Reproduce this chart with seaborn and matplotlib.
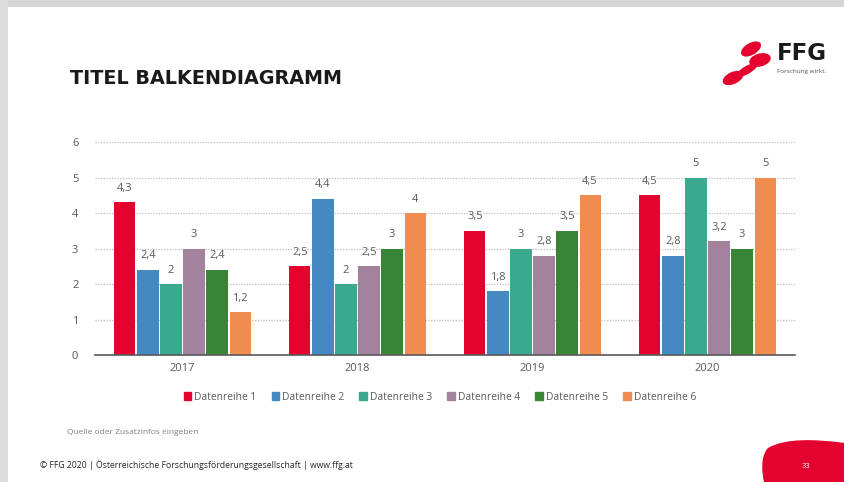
import matplotlib
matplotlib.use("Agg")
import matplotlib.pyplot as plt
import seaborn as sns
import pandas as pd
from matplotlib.patches import Rectangle, PathPatch, Ellipse
from matplotlib.path import Path

years = ["2017", "2018", "2019", "2020"]
series = ["Datenreihe 1", "Datenreihe 2", "Datenreihe 3",
          "Datenreihe 4", "Datenreihe 5", "Datenreihe 6"]
reihe1 = [4.3, 2.5, 3.5, 4.5]
reihe2 = [2.4, 4.4, 1.8, 2.8]
reihe3 = [2.0, 2.0, 3.0, 5.0]
reihe4 = [3.0, 2.5, 2.8, 3.2]
reihe5 = [2.4, 3.0, 3.5, 3.0]
reihe6 = [1.2, 4.0, 4.5, 5.0]
colors = ["#E4032E", "#4589C3", "#3BA98E", "#A2829C", "#3A8436", "#F08C4F"]

values = [reihe1, reihe2, reihe3, reihe4, reihe5, reihe6]
rows = []
for s, vals in zip(series, values):
    for y, v in zip(years, vals):
        rows.append({"Jahr": y, "Reihe": s, "Wert": v})
df = pd.DataFrame(rows)

sns.set_theme(style="white")
plt.rcParams["font.family"] = ["Open Sans", "DejaVu Sans"]

fig = plt.figure(figsize=(8.45, 4.82), dpi=100)
W, H = 845, 482

def fx(px):
    return px / W

def fy(py):
    return 1 - py / H

# Full-slide overlay in pixel units (y grows downwards) for decorations
deco = fig.add_axes([0, 0, 1, 1], zorder=-1)
deco.set_xlim(0, W)
deco.set_ylim(H, 0)
deco.axis("off")

ax = fig.add_axes([fx(95), fy(355), fx(795) - fx(95), fy(142) - fy(355)])

sns.barplot(data=df, x="Jahr", y="Wert", hue="Reihe", palette=colors,
            width=0.79, gap=0.08, ax=ax, legend=False, saturation=1,
            edgecolor="none")

ax.set_ylim(0, 6)
ax.set_xlim(-0.5, 3.5)
ax.set_yticks(range(7))
ax.set_yticklabels([str(i) for i in range(7)])
for yv in range(1, 7):
    ax.axhline(yv, color="#BFBFBF", lw=0.9, ls=(0, (1, 1.2)), zorder=0)
for sp in ["top", "right", "left"]:
    ax.spines[sp].set_visible(False)
ax.spines["bottom"].set_color("#595959")
ax.spines["bottom"].set_linewidth(1.2)
ax.tick_params(axis="y", length=0, pad=12, labelsize=8, labelcolor="#595959")
ax.tick_params(axis="x", length=0, pad=6, labelsize=8, labelcolor="#595959")
ax.set_xlabel("")
ax.set_ylabel("")

for cont in ax.containers:
    for bar in cont:
        h = bar.get_height()
        lbl = f"{h:g}".replace(".", ",")
        ax.annotate(lbl, (bar.get_x() + bar.get_width() / 2, h),
                    xytext=(0, 6), textcoords="offset points",
                    ha="center", va="bottom", fontsize=8, color="#595959")

# Legend
handles = [Rectangle((0, 0), 1, 1, color=c) for c in colors]
fig.legend(handles, series, loc="center", bbox_to_anchor=(fx(440), fy(397)),
           ncol=6, frameon=False, fontsize=7.4, handlelength=0.75,
           handleheight=0.75, handletextpad=0.3, columnspacing=1.45,
           labelcolor="#595959")

# Title
fig.text(fx(70), fy(78), "TITEL BALKENDIAGRAMM", fontsize=13.8,
         fontweight="bold", color="#1a1a1a", va="center", ha="left",
         family="DejaVu Sans")

# Source and footer
fig.text(fx(67), fy(432), "Quelle oder Zusatzinfos eingeben", fontsize=6,
         color="#7f7f7f", va="center", ha="left")
fig.text(fx(40), fy(465),
         "© FFG 2020 | Österreichische Forschungsförderungsgesellschaft | www.ffg.at",
         fontsize=6.2, color="#262626", va="center", ha="left")

# Red corner shape with page number
verts = [(845, 443), (815, 439), (785, 438), (768, 448),
         (760, 456), (762, 474), (764, 482), (845, 482), (845, 443)]
codes = [Path.MOVETO, Path.CURVE4, Path.CURVE4, Path.CURVE4,
         Path.CURVE4, Path.CURVE4, Path.CURVE4, Path.LINETO, Path.CLOSEPOLY]
deco.add_patch(PathPatch(Path(verts, codes), facecolor="#E4032E",
                         edgecolor="none"))
deco.text(806, 466, "33", fontsize=5.5, color="white",
          va="center", ha="center")

# Logo mark: upper lobe, right bulge, neck, lower lobe
for (cx, cy, w, h, ang) in [(751, 49, 22, 12, -30), (760, 60, 22, 13, -15),
                            (747, 70, 24, 8, -30), (733, 78, 22, 12, -25)]:
    deco.add_patch(Ellipse((cx, cy), w, h, angle=ang,
                           facecolor="#E4032E", edgecolor="none"))
deco.text(777, 53, "FFG", fontsize=16.5, fontweight="bold",
          color="#1a1a1a", va="center", ha="left", family="DejaVu Sans")
deco.text(777, 72, "Forschung wirkt.", fontsize=4.6,
          color="#555555", va="center", ha="left")

# Slide frame shadow
deco.add_patch(Rectangle((0, 0), W, 7, facecolor="#D6D6D6", edgecolor="none"))
deco.add_patch(Rectangle((0, 0), 8, H, facecolor="#DCDCDC", edgecolor="none"))

fig.savefig("out.png", dpi=100)
